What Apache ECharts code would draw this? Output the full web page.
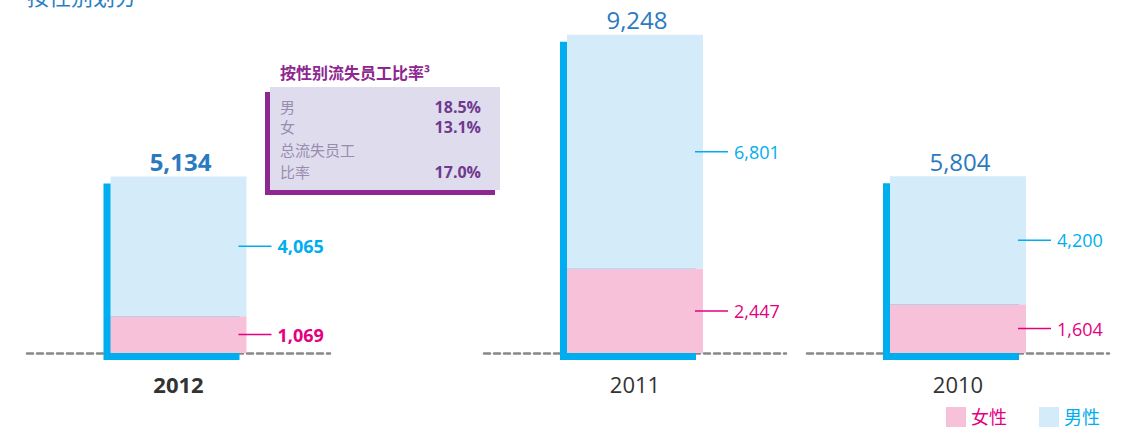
<!DOCTYPE html>
<html>
<head>
<meta charset="utf-8">
<script src="https://cdn.jsdelivr.net/npm/echarts@6/dist/echarts.min.js"></script>
<style>
  html, body { margin: 0; padding: 0; background: #fff; }
  #chart { width: 1132px; height: 435px; }
</style>
</head>
<body>
<div id="chart"></div>
<script>
// data
const years = ['2012', '2011', '2010']
const female = [1069, 2447, 1604]
const male = [4065, 6801, 4200]
const totals = [5134, 9248, 5804]
const rateLabels = ['男', '女', '总流失员工\n比率']
const rateValues = ['18.5%', '13.1%', '17.0%']

const FONT = "'Open Sans', 'Noto Sans CJK SC', sans-serif"
const CYAN = '#00aeef'
const PINK = '#e4007f'
const BLUE_TXT = '#2a7abf'
const PURPLE = '#8e278f'
const BAR_W = 136
const fmt = v => v.toLocaleString('en-US')

// per-group layout (each year is its own little panel)
const panels = [
  { left: 27, width: 303, max: 10000 },
  { left: 484, width: 302, max: 10000 },
  { left: 807, width: 302, max: 11300 }
]

const grids = [], xAxes = [], yAxes = [], series = []

panels.forEach((p, i) => {
  const bold = i === 0 ? 'bold' : 'normal'
  grids.push({ left: p.left, width: p.width, top: 9, bottom: 82 })
  xAxes.push({
    type: 'category',
    gridIndex: i,
    data: [years[i]],
    axisLine: { lineStyle: { color: '#888', width: 2.5, type: [6, 4], cap: 'round' } },
    axisTick: { show: false },
    axisLabel: { margin: 20, fontSize: 22, color: '#333', fontWeight: bold, fontFamily: FONT }
  })
  yAxes.push({ type: 'value', gridIndex: i, min: 0, max: p.max, show: false, splitLine: { show: false } })

  // cyan offset frame + total on top
  series.push({
    type: 'custom',
    xAxisIndex: i,
    yAxisIndex: i,
    z: 1,
    data: [[years[i], totals[i]]],
    renderItem: (params, api) => {
      const top = api.coord([api.value(0), api.value(1)])
      const base = api.coord([api.value(0), 0])
      return {
        type: 'group',
        children: [
          {
            type: 'rect',
            shape: { x: top[0] - BAR_W / 2 - 7, y: top[1] + 7, width: BAR_W, height: base[1] - top[1] },
            style: { fill: CYAN }
          },
          {
            type: 'text',
            style: {
              text: fmt(api.value(1)),
              x: top[0] + 2, y: top[1] - 3,
              align: 'center', verticalAlign: 'bottom',
              fill: BLUE_TXT,
              font: bold + ' 24px ' + FONT
            }
          }
        ]
      }
    }
  })

  const segLabel = (color) => ({
    show: true,
    position: 'right',
    distance: 0,
    offset: [-8, 0],
    formatter: p => '{ln|}{v|' + fmt(p.value) + '}',
    rich: {
      ln: { width: 33, height: 1.5, backgroundColor: color },
      v: { color: color, fontSize: 18, fontWeight: bold, fontFamily: FONT, padding: [0, 0, 0, 6] }
    }
  })

  series.push({
    name: '女性',
    type: 'bar',
    xAxisIndex: i,
    yAxisIndex: i,
    stack: 'g' + i,
    barWidth: BAR_W,
    z: 2,
    data: [female[i]],
    itemStyle: { color: '#f6c1d9' },
    label: segLabel(PINK)
  })
  series.push({
    name: '男性',
    type: 'bar',
    xAxisIndex: i,
    yAxisIndex: i,
    stack: 'g' + i,
    barWidth: BAR_W,
    z: 2,
    data: [male[i]],
    itemStyle: { color: '#d4ebf9' },
    label: segLabel(CYAN)
  })
})

// turnover rate callout box
const boxTexts = []
const rowY = [[107], [127], [150, 172]]
rateLabels.forEach((lab, i) => {
  lab.split('\n').forEach((line, k) => {
    boxTexts.push({
      type: 'text', x: 280, y: rowY[i][k],
      style: { text: line, fill: '#9a8cb0', font: '15px ' + FONT, verticalAlign: 'middle' }
    })
  })
  const ys = rowY[i]
  boxTexts.push({
    type: 'text', x: 481, y: ys[ys.length - 1],
    style: { text: rateValues[i], fill: '#6e3a8e', font: 'bold 16px ' + FONT, align: 'right', verticalAlign: 'middle' }
  })
})

const option = {
  animation: false,
  textStyle: { fontFamily: FONT },
  grid: grids,
  xAxis: xAxes,
  yAxis: yAxes,
  legend: {
    right: 27,
    bottom: 3,
    itemWidth: 20,
    itemHeight: 20,
    itemGap: 32,
    icon: 'rect',
    data: [
      { name: '女性', textStyle: { color: PINK } },
      { name: '男性', textStyle: { color: CYAN } }
    ],
    textStyle: { fontSize: 18, fontFamily: FONT }
  },
  graphic: [
    {
      type: 'text', x: 27, y: 7,
      style: { text: '按性别划分', fill: '#2a7fc4', font: '22px ' + FONT, verticalAlign: 'bottom' }
    },
    {
      type: 'text', x: 280, y: 73,
      style: { text: '按性别流失员工比率³', fill: PURPLE, font: 'bold 16px ' + FONT, verticalAlign: 'middle' }
    },
    { type: 'rect', shape: { x: 265, y: 92, width: 230, height: 103 }, style: { fill: PURPLE } },
    { type: 'rect', shape: { x: 270, y: 87, width: 230, height: 103 }, style: { fill: '#dfdcee' } },
    ...boxTexts
  ],
  series: series
}

echarts.init(document.getElementById('chart'), null, { renderer: 'svg' }).setOption(option)
</script>
</body>
</html>
